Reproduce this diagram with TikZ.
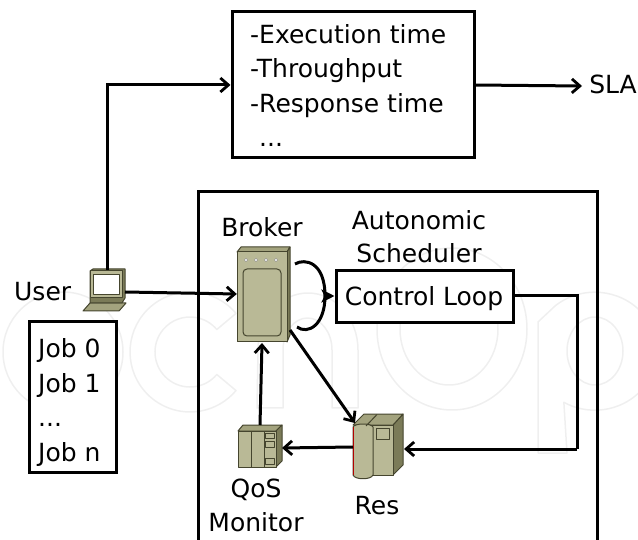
\documentclass[tikz,border=0pt]{standalone}
\usepackage{fontspec}
\setmainfont{DejaVu Sans}
\usetikzlibrary{arrows.meta,positioning}
\definecolor{iconfill}{HTML}{B9B996}
\definecolor{iconside}{HTML}{7B7B58}
\definecolor{icontop}{HTML}{A3A37E}
\definecolor{iconline}{HTML}{45452E}
\definecolor{markline}{HTML}{EFEFEF}
\tikzset{
    lbl/.style={font=\fontsize{25}{30}\selectfont,inner sep=0pt},
    box/.style={draw,line width=3pt,inner sep=0pt},
    conn/.style={-{Straight Barb[length=8pt,width=14pt,line width=2.8pt]},line width=3pt},
    icon/.style={draw=iconline,line width=1pt,line join=round,fill=iconfill},
    mark line/.style={draw=markline,line width=1.5pt,line join=round},
}
\begin{document}
\begin{tikzpicture}[x=1pt,y=-1pt]
    \useasboundingbox (0,0) rectangle (638,540);
    %Background letters
    \begin{scope}
        \clip (0,0) rectangle (638,540);
        \draw[mark line] (63,352) circle[x radius=60,y radius=60];
        \draw[mark line] (236,313.4) arc[start angle=320,end angle=40,radius=60] -- (216.8,374.5)
            arc[start angle=40,end angle=320,radius=35] -- cycle;
        \draw[mark line] (257,408) -- (283,408) -- (283,350) arc[start angle=180,end angle=360,x radius=24.5,y radius=32]
            -- (332,408) -- (358,408) -- (358,350) arc[start angle=0,end angle=-180,x radius=50,y radius=57] -- cycle;
        \draw[mark line] (452,329) circle[x radius=75,y radius=81];
        \draw[mark line] (449,329) circle[x radius=49,y radius=56];
        \draw[mark line] (555,306) arc[start angle=230,end angle=480,x radius=62,y radius=59]
            -- (567,453) -- (538,453) -- (538,322) -- cycle;
        \draw[mark line] (595,351) circle[x radius=28,y radius=34];
    \end{scope}
    %Boxes
    \node[box,minimum width=242pt,minimum height=146pt] (metrics) at (353,85) {};
    \node[box,minimum width=177pt,minimum height=52pt,fill=white] (loop) at (424.5,297) {};
    \node[box,minimum width=87pt,minimum height=150pt,fill=white] (jobs) at (72.5,397) {};
    \draw[line width=3pt] (198,540) -- (198,192) -- (597,192) -- (597,540);
    %Metrics text
    \node[lbl,anchor=base west] (exec) at (250,44) {-Execution time};
    \node[lbl,anchor=base west] (thru) at (250,78) {-Throughput};
    \node[lbl,anchor=base west] (resp) at (250,113) {-Response time};
    \node[lbl,anchor=base west] (more) at (259,147) {...};
    %Job text
    \node[lbl,anchor=base west] (job0) at (38,358) {Job 0};
    \node[lbl,anchor=base west] (job1) at (38,392) {Job 1};
    \node[lbl,anchor=base west] (jobdots) at (38,427) {...};
    \node[lbl,anchor=base west] (jobn) at (38,461) {Job n};
    %Labels
    \node[lbl,anchor=base] (sla) at (613,94) {SLA};
    \node[lbl,anchor=base west] (user) at (14,301) {User};
    \node[lbl,anchor=base] (brokertxt) at (262,237) {Broker};
    \node[lbl,anchor=base] (auto) at (419,230) {Autonomic};
    \node[lbl,anchor=base] (sched) at (419,263) {Scheduler};
    \node[lbl,anchor=base] (ctrl) at (424,306) {Control Loop};
    \node[lbl,anchor=base] (qos) at (256,497) {QoS};
    \node[lbl,anchor=base] (monitor) at (256,531) {Monitor};
    \node[lbl,anchor=base] (restxt) at (377,514) {Res};
    %Laptop
    \node[minimum width=40pt,minimum height=44pt,inner sep=0pt] (laptop) at (105,290) {};
    \filldraw[icon,fill=icontop] (83,311) -- (90,303) -- (126,303) -- (119,311) -- cycle;
    \filldraw[icon,fill=iconside] (90,271) -- (93,269) -- (125,269) -- (125,298) -- (122,303) -- (90,303) -- cycle;
    \filldraw[icon] (90,271) -- (122,271) -- (122,298) -- (90,298) -- cycle;
    \filldraw[icon,fill=white] (93,275) -- (119,275) -- (119,295) -- (93,295) -- cycle;
    %Broker
    \node[minimum width=53pt,minimum height=96pt,inner sep=0pt] (broker) at (263.5,294.5) {};
    \filldraw[icon,fill=icontop] (237,252) -- (241,247) -- (290,247) -- (287,252) -- cycle;
    \filldraw[icon,fill=iconside] (287,252) -- (290,247) -- (290,335) -- (287,342) -- cycle;
    \filldraw[icon] (237,252) rectangle (287,342);
    \filldraw[icon,rounded corners=4pt] (243,269) rectangle (281,336);
    \foreach \x in {246,256,266,276}
        \filldraw[draw=gray,fill=white,line width=0.4pt] (\x,260) circle (1.7pt);
    %QoS monitor
    \node[minimum width=44pt,minimum height=42pt,inner sep=0pt] (monbox) at (260,446) {};
    \filldraw[icon,fill=icontop] (238,431) -- (243,425) -- (282,425) -- (276,431) -- cycle;
    \filldraw[icon,fill=iconside] (276,431) -- (282,425) -- (282,461) -- (276,467) -- cycle;
    \filldraw[icon] (238,431) rectangle (276,467);
    \draw[icon,fill=none] (251,431) -- (251,467) (264,431) -- (264,467);
    \draw[icon,fill=none] (265,433) rectangle (274,438.5) (265,441) rectangle (274,447) (265,458) rectangle (274,464);
    %Resource
    \node[minimum width=51pt,minimum height=65pt,inner sep=0pt] (resbox) at (377.5,446.5) {};
    \filldraw[icon,fill=iconside] (393,475) -- (403,465) -- (403,414) -- (393,425) -- cycle;
    \filldraw[icon,fill=icontop] (353,425) -- (364,414) -- (403,414) -- (393,425) -- cycle;
    \filldraw[icon] (372,425) rectangle (393,475);
    \filldraw[icon] (353,427) -- (353,475) .. controls (355,480) and (371,480) .. (373,475)
        -- (373,427) .. controls (371,423) and (355,423) .. cycle;
    \draw[icon,fill=none] (376,428) rectangle (389,439);
    \draw[icon,fill=none] (377,414.5) -- (366,426);
    \draw[red!70!black,line width=0.8pt] (353,427) -- (353,475);
    %Coordinates for connector ends
    \coordinate (corner1) at (107,85);
    \coordinate (corner2) at (577,296);
    \coordinate (corner3) at (577,449);
    \coordinate (loopa) at (295,264);
    \coordinate (loopb) at (297,327);
    \coordinate (loopc) at (325,296);
    %Arrows
    \draw[conn] (107,270) -- (corner1) -- (metrics.west |- corner1);
    \draw[conn] (474,85) -- (582,86);
    \draw[conn] (125,292) -- (broker.west |- 0,294);
    \draw[line width=3pt] (loopa) .. controls (305,258) and (325,262) .. (loopc)
        .. controls (325,325) and (308,335) .. (loopb);
    \draw[-{Stealth[length=13pt,width=13pt,inset=3pt]},line width=3pt] (loopc) -- (loop.west |- loopc);
    \draw[line width=3pt] (loop.east |- corner2) -- (corner2) -- (corner3);
    \draw[conn] (corner3) -- (404,449);
    \draw[conn] (290,330) -- (355,423);
    \draw[conn] (353,447) -- (282,448);
    \draw[conn] (260,425) -- (262,343);
\end{tikzpicture}
\end{document}
